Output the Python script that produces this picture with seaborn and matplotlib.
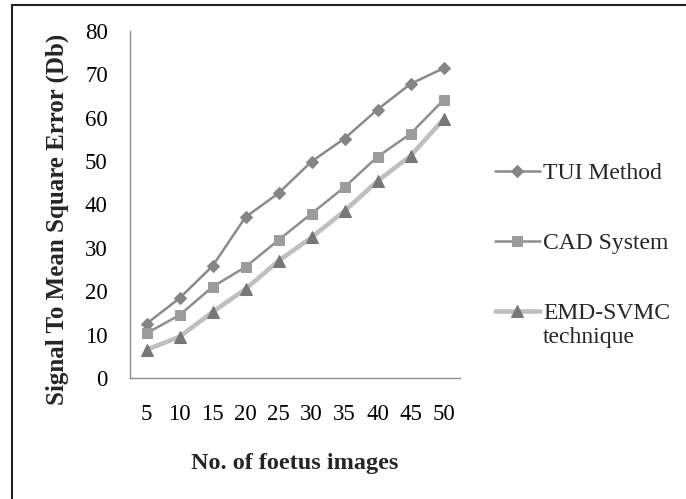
import matplotlib
matplotlib.use("Agg")
import matplotlib.pyplot as plt
import seaborn as sns
import pandas as pd
from matplotlib.patches import Rectangle

images = [5, 10, 15, 20, 25, 30, 35, 40, 45, 50]
tui = [12.5, 18.4, 25.8, 37.1, 42.6, 49.9, 55.2, 61.9, 67.8, 71.4]
cad = [10.3, 14.5, 21.0, 25.6, 31.8, 37.9, 44.0, 51.0, 56.3, 64.1]
emd = [6.5, 9.5, 15.2, 20.5, 27.0, 32.4, 38.5, 45.4, 51.2, 59.6]
labels = ["TUI Method", "CAD System", "EMD-SVMC\ntechnique"]
yticks = [0, 10, 20, 30, 40, 50, 60, 70, 80]

sns.set_theme(style="white")
plt.rcParams["font.family"] = ["Liberation Serif", "DejaVu Serif"]

fig = plt.figure(figsize=(6.86, 4.99), dpi=100)
ax = fig.add_axes([130/686, (499-378)/499, (460-130)/686, (378-31)/499])

df = pd.DataFrame({"x": images, "TUI": tui, "CAD": cad, "EMD": emd})

styles = [
    ("TUI", labels[0], dict(color="#8a8a8a", lw=1.8, marker="D", ms=6, mfc="#858585", mec="#858585")),
    ("CAD", labels[1], dict(color="#8e8e8e", lw=1.8, marker="s", ms=7.5, mfc="#9c9c9c", mec="#9c9c9c")),
    ("EMD", labels[2], dict(color="#bfbfbf", lw=3.3, marker="^", ms=9, mfc="#777777", mec="#777777")),
]
for col, lab, kw in styles:
    sns.lineplot(data=df, x="x", y=col, ax=ax, label=lab, **kw)

ax.set_xlim(2.5, 52.5)
ax.set_ylim(0, 80)
ax.set_xticks(images)
ax.set_xticklabels([str(v) for v in images])
ax.set_yticks(yticks)
ax.tick_params(axis="both", length=0, labelsize=16.5, colors="#000000")
ax.tick_params(axis="x", pad=19)
ax.tick_params(axis="y", pad=16)
for s in ["top", "right"]:
    ax.spines[s].set_visible(False)
for s in ["left", "bottom"]:
    ax.spines[s].set_color("#8c8c8c")
    ax.spines[s].set_linewidth(1.0)

ax.set_xlabel("No. of foetus images", fontsize=17.5, fontweight="bold")
ax.set_ylabel("Signal To Mean Square Error (Db)", fontsize=18, fontweight="bold")
ax.xaxis.set_label_coords(0.5, -0.215)
ax.yaxis.set_label_coords(-0.185, 0.458)

leg = ax.legend(loc="upper left", bbox_to_anchor=(1.106, 0.62), frameon=False,
                fontsize=17, handlelength=1.9, handletextpad=0.13, labelspacing=2.05,
                borderaxespad=0, borderpad=0)
items = leg._legend_handle_box.get_children()[0].get_children()
items[-1].align = "top"

fig.patches.append(Rectangle((12/686, -0.1), 1.2, (499-5)/499 + 0.1,
                             transform=fig.transFigure, fill=False,
                             edgecolor="#222222", linewidth=1.5))

fig.savefig("out.png", dpi=100)
